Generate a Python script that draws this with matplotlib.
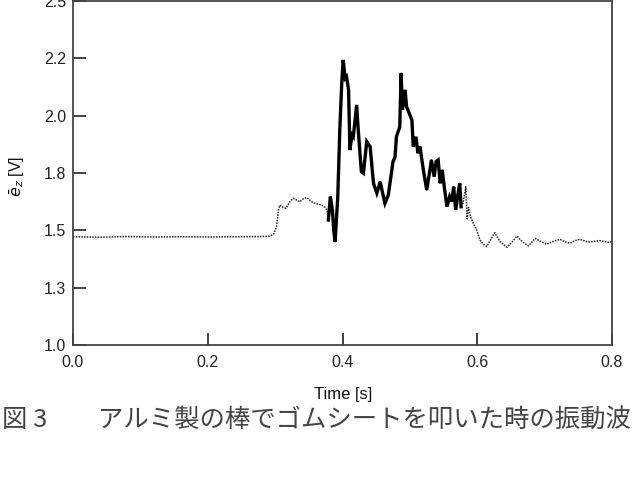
import numpy as np
import matplotlib
matplotlib.use("Agg")
import matplotlib.pyplot as plt

# signal: time [s], voltage [V]
time_s = [0.000, 0.040, 0.080, 0.120, 0.160, 0.200, 0.240, 0.280, 0.293, 0.298,
          0.302, 0.305, 0.307, 0.312, 0.316, 0.322, 0.327, 0.332, 0.337, 0.342,
          0.347, 0.352, 0.357, 0.363, 0.369, 0.374, 0.377, 0.379, 0.382, 0.385,
          0.387, 0.389, 0.391, 0.393, 0.396, 0.399, 0.401, 0.404, 0.406, 0.409,
          0.411, 0.414, 0.416, 0.421, 0.423, 0.428, 0.431, 0.436, 0.441, 0.446,
          0.451, 0.456, 0.458, 0.463, 0.468, 0.475, 0.478, 0.480, 0.485, 0.487,
          0.489, 0.493, 0.495, 0.503, 0.505, 0.509, 0.512, 0.515, 0.520, 0.525,
          0.529, 0.532, 0.536, 0.539, 0.542, 0.545, 0.548, 0.551, 0.555, 0.559,
          0.562, 0.565, 0.568, 0.572, 0.574, 0.576, 0.579, 0.583, 0.585, 0.587,
          0.590, 0.594, 0.599, 0.604, 0.609, 0.614, 0.620, 0.626, 0.634, 0.644,
          0.652, 0.659, 0.667, 0.676, 0.686, 0.695, 0.703, 0.713, 0.723, 0.730,
          0.738, 0.745, 0.752, 0.765, 0.782, 0.795, 0.800]
volt = [1.472, 1.470, 1.473, 1.471, 1.472, 1.471, 1.472, 1.473, 1.475, 1.485,
        1.516, 1.589, 1.610, 1.600, 1.596, 1.625, 1.640, 1.632, 1.625, 1.638,
        1.643, 1.630, 1.620, 1.615, 1.610, 1.600, 1.589, 1.545, 1.647, 1.589,
        1.500, 1.450, 1.550, 1.647, 1.940, 2.150, 2.243, 2.163, 2.170, 2.112,
        1.850, 1.916, 1.908, 2.047, 1.952, 1.756, 1.749, 1.887, 1.865, 1.705,
        1.662, 1.712, 1.683, 1.618, 1.654, 1.800, 1.820, 1.908, 1.952, 2.185,
        2.025, 2.112, 2.040, 1.981, 1.865, 1.908, 1.836, 1.865, 1.763, 1.676,
        1.749, 1.807, 1.734, 1.800, 1.807, 1.705, 1.763, 1.690, 1.603, 1.647,
        1.625, 1.690, 1.589, 1.669, 1.705, 1.603, 1.620, 1.690, 1.550, 1.600,
        1.560, 1.531, 1.502, 1.458, 1.440, 1.429, 1.460, 1.490, 1.450, 1.426,
        1.450, 1.475, 1.450, 1.432, 1.465, 1.450, 1.440, 1.452, 1.461, 1.450,
        1.444, 1.455, 1.461, 1.449, 1.455, 1.448, 1.450]

# highlighted window (drawn solid)
win_start, win_end = 0.378, 0.577

xticks = [0.0, 0.2, 0.4, 0.6, 0.8]
xtick_labels = ["0.0", "0.2", "0.4", "0.6", "0.8"]
yticks = [1.0, 1.25, 1.5, 1.75, 2.0, 2.25, 2.5]
ytick_labels = ["1.0", "1.3", "1.5", "1.8", "2.0", "2.2", "2.5"]

t = np.array(time_s)
v = np.array(volt)
inwin = (t >= win_start) & (t <= win_end)

fig = plt.figure(figsize=(6.41, 4.84), dpi=100)
ax = fig.add_axes([73 / 641, 1 - 345 / 484, (612 - 73) / 641, 344 / 484])

ax.plot(t, v, color="#222222", lw=1.1, ls=(0, (1, 0.8)))
ax.plot(t[inwin], v[inwin], color="black", lw=2.4, solid_joinstyle="miter")

ax.set_xlim(0, 0.8)
ax.set_ylim(1.0, 2.5)
ax.set_xticks(xticks)
ax.set_xticklabels(xtick_labels)
ax.set_yticks(yticks)
ax.set_yticklabels(ytick_labels)

for sp in ax.spines.values():
    sp.set_color("#444444")
    sp.set_linewidth(1.3)

ax.tick_params(axis="both", direction="in", length=9, width=1.3, color="#333333",
               labelsize=11.5, labelcolor="#222222")
ax.tick_params(axis="x", pad=7)
ax.tick_params(axis="y", pad=5)
for lab in ax.get_xticklabels() + ax.get_yticklabels():
    lab.set_family("Liberation Sans")

fig.text(343 / 641, 1 - 395 / 484, "Time [s]", ha="center", va="center",
         fontsize=12, family="Liberation Sans", color="#111111")
fig.text(17 / 641, 1 - 176 / 484, r"$\bar{e}_z$ [V]", rotation=90,
         ha="center", va="center", fontsize=11.5, family="Liberation Sans",
         color="#111111")

fig.text(2 / 641, 1 - 421 / 484, "図 3　　アルミ製の棒でゴムシートを叩いた時の振動波",
         ha="left", va="center", fontsize=18.3, color="#444444",
         family=["Noto Sans CJK JP", "DejaVu Sans"])

fig.savefig("out.png", dpi=100)
